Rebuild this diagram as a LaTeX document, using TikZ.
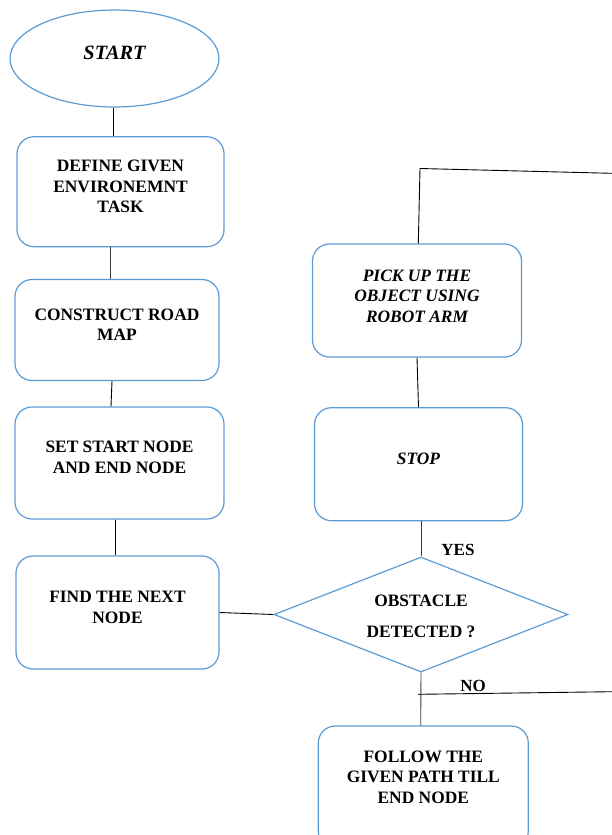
\documentclass[tikz,border=0pt]{standalone}
\usepackage{fontspec}
\setmainfont{Liberation Serif}
\usetikzlibrary{shapes.geometric}
\definecolor{boxblue}{RGB}{91,155,213}
\definecolor{linegray}{RGB}{60,60,60}
\tikzset{
  txt/.style={font=\fontsize{17.4}{20.5}\selectfont\bfseries, align=center, inner sep=0pt},
  itxt/.style={font=\fontsize{17.4}{20.5}\selectfont\bfseries\itshape, align=center, inner sep=0pt},
  stepbox/.style={draw=boxblue, line width=1.2pt, rounded corners=17pt, inner sep=0pt},
  oval/.style={draw=boxblue, line width=1.2pt, ellipse, inner sep=0pt},
  decision/.style={draw=boxblue, line width=1.2pt, diamond, inner sep=0pt},
  conn/.style={draw=linegray, line width=0.9pt},
  lbl/.style={font=\fontsize{17}{20}\selectfont\bfseries, inner sep=0pt}
}
\begin{document}
\begin{tikzpicture}[x=1pt,y=-1pt]
\useasboundingbox (0,0) rectangle (612,835);
% nodes
\node[oval, minimum width=209, minimum height=97,
  label={[itxt, font=\fontsize{20.3}{24}\selectfont\bfseries\itshape, yshift=5.5pt]center:START}] (start) at (114.5,58.5) {};
\node[stepbox, minimum width=207, minimum height=110,
  label={[txt, yshift=5pt]center:DEFINE GIVEN\\ENVIRONEMNT\\TASK}] (define) at (120.5,191.7) {};
\node[stepbox, minimum width=204, minimum height=101,
  label={[txt, yshift=5.5pt]center:CONSTRUCT ROAD\\MAP}] (construct) at (117,330) {};
\node[stepbox, minimum width=209, minimum height=112,
  label={[txt, yshift=5.5pt]center:SET START NODE\\AND END NODE}] (setse) at (119.5,463) {};
\node[stepbox, minimum width=203, minimum height=113,
  label={[txt, yshift=5pt]center:FIND THE NEXT\\NODE}] (find) at (117.5,612.5) {};
\node[decision, minimum width=294, minimum height=115,
  label={[txt, font=\fontsize{17.4}{31}\selectfont\bfseries, yshift=-2pt]center:OBSTACLE\\DETECTED ?}] (obst) at (421,614.5) {};
\node[stepbox, minimum width=209, minimum height=113,
  label={[itxt, yshift=4.5pt]center:PICK UP THE\\OBJECT USING\\ROBOT ARM}] (pick) at (417,300.5) {};
\node[stepbox, minimum width=208, minimum height=113,
  label={[itxt, yshift=5.5pt]center:STOP}] (stop) at (418.5,464.2) {};
\node[stepbox, minimum width=210, minimum height=122,
  label={[txt, yshift=10pt]center:FOLLOW THE\\GIVEN PATH TILL\\END NODE}] (follow) at (423.3,787) {};
% labels
\node[lbl] (yes) at (458,550) {YES};
\node[lbl] (no) at (473,686) {NO};
% free ends
\coordinate (topturn) at (420,168.5);
\coordinate (topend) at (612,173.3);
\coordinate (nostart) at (418,694.3);
\coordinate (noend) at (612,691.7);
% connectors
\draw[conn, draw=black] ([xshift=-1.5pt]start.south) -- ([xshift=-7.5pt]define.north);
\draw[conn] ([xshift=-10.5pt]define.south) -- ([xshift=-7pt]construct.north);
\draw[conn, draw=black] ([xshift=-5pt]construct.south) -- ([xshift=-8.5pt]setse.north);
\draw[conn, draw=black] ([xshift=-4.5pt]setse.south) -- ([xshift=-2.5pt]find.north);
\draw[conn, draw=black] (find.east) -- (obst.west);
\draw[conn, draw=black] ([xshift=1.3pt]pick.north) -- (topturn) -- (topend);
\draw[conn, draw=black] (pick.south) -- (stop.north);
\draw[conn] ([xshift=2.5pt]stop.south) -- (obst.north);
\draw[conn] (obst.south) -- ([xshift=-2.6pt]follow.north);
\draw[conn, draw=black] (nostart) -- (noend);
\end{tikzpicture}
\end{document}
